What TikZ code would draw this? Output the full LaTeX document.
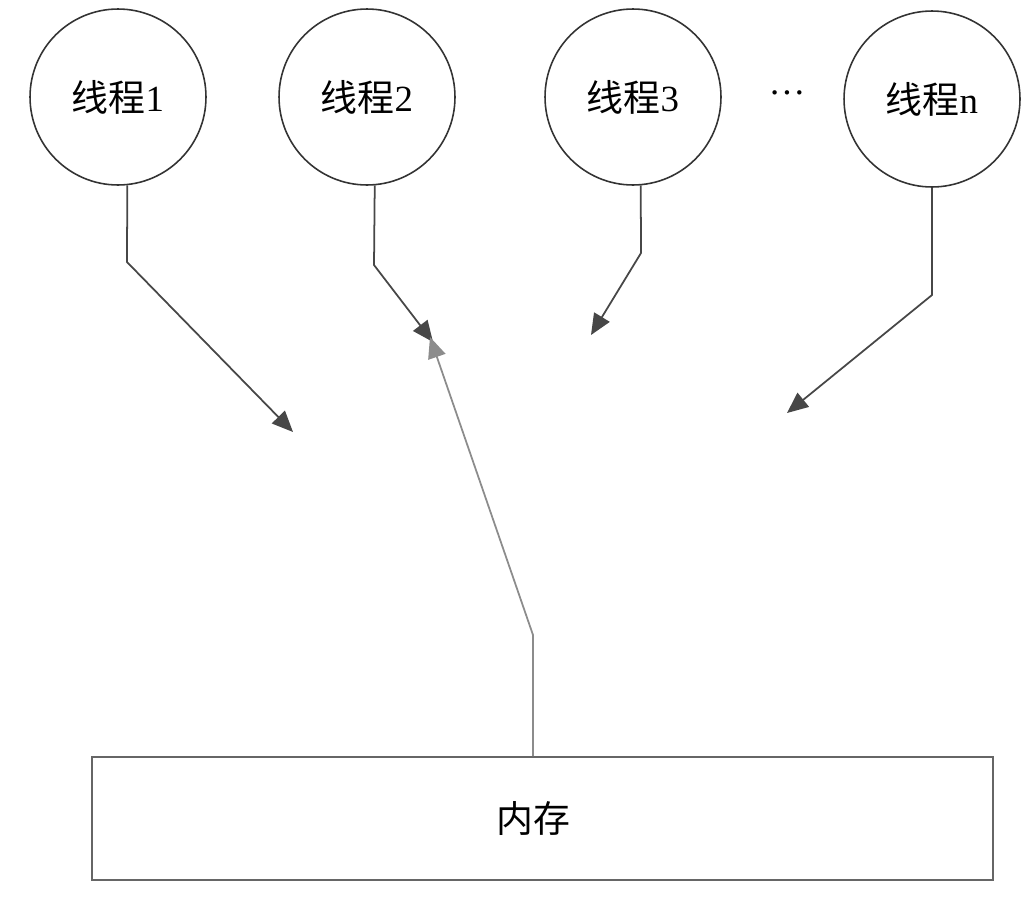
\documentclass[tikz,border=0pt]{standalone}
\usepackage{fontspec}
\setmainfont{Liberation Serif}
\newfontfamily\cjk{Noto Sans CJK SC}
\usetikzlibrary{arrows.meta}

\tikzset{
  thread/.style={shape=circle,draw=black!80,line width=0.9pt,minimum size=3.52cm,inner sep=0pt,font=\fontsize{21}{25}\selectfont},
  membox/.style={shape=rectangle,draw=black!60,line width=0.9pt,minimum width=18.02cm,minimum height=2.46cm,font=\fontsize{21}{25}\selectfont},
  toarrow/.style={draw=black!72,line width=1pt,-{Triangle[length=0.42cm,width=0.36cm]}},
  fromarrow/.style={draw=black!45,line width=1pt,-{Triangle[length=0.42cm,width=0.36cm]}}
}

\begin{document}
\begin{tikzpicture}[x=0.02cm,y=-0.02cm]
  \useasboundingbox (0,0) rectangle (1030,910);

  \node[thread] (t1) at (118,97) {{\cjk 线程}1};
  \node[thread] (t2) at (367,97) {{\cjk 线程}2};
  \node[thread] (t3) at (633,97) {{\cjk 线程}3};
  \node (dots) at (787,93) {\fontsize{21}{25}\selectfont …};
  \node[thread] (tn) at (932,99) {{\cjk 线程}n};
  \node[membox,label={[xshift=-0.18cm,font=\fontsize{21}{25}\selectfont]center:{\cjk 内存}}] (mem) at (542.5,818.5) {};

  % bends and free ends
  \coordinate (b1) at (127,262);
  \coordinate (e1) at (293,432);
  \coordinate (b2) at (374,265);
  \coordinate (e2) at (433,342);
  \coordinate (b3) at (641,253);
  \coordinate (e3) at (591,335);
  \coordinate (bn) at (932,295);
  \coordinate (en) at (787,413);
  \coordinate (bm) at (533,635);
  \coordinate (em) at (430,337);

  \draw[toarrow] (t1.-84) -- (b1) -- (e1);
  \draw[toarrow] (t2.-85) -- (b2) -- (e2);
  \draw[toarrow] (t3.-85) -- (b3) -- (e3);
  \draw[toarrow] (tn.south) -- (bn) -- (en);
  \draw[fromarrow] ([xshift=-0.19cm]mem.north) -- (bm) -- (em);
\end{tikzpicture}
\end{document}
